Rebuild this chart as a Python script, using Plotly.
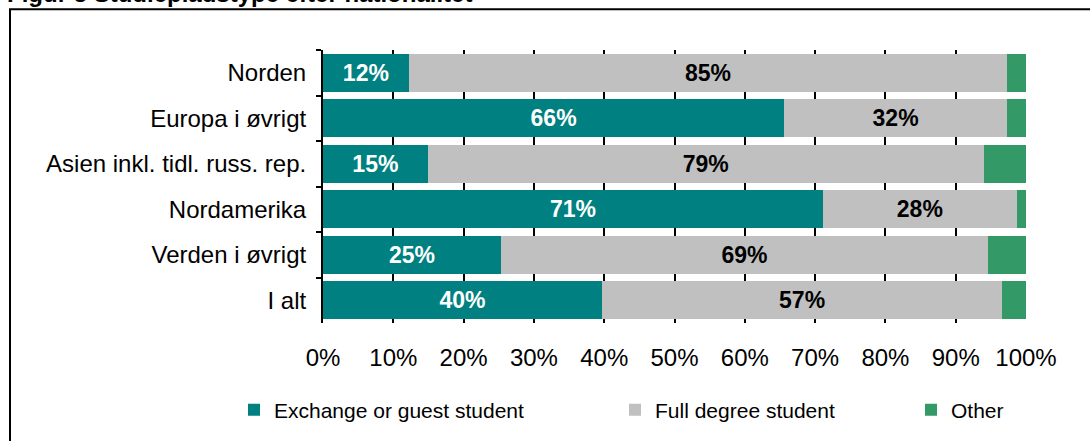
import plotly.graph_objects as go

categories = ["Norden", "Europa i øvrigt", "Asien inkl. tidl. russ. rep.",
              "Nordamerika", "Verden i øvrigt", "I alt"]
exchange = [12.2, 65.6, 14.9, 71.1, 25.3, 39.7]
full_degree = [85.1, 31.7, 79.1, 27.6, 69.3, 56.9]
other = [2.7, 2.7, 6.0, 1.3, 5.4, 3.4]
exchange_labels = ["12%", "66%", "15%", "71%", "25%", "40%"]
full_labels = ["85%", "32%", "79%", "28%", "69%", "57%"]
x_ticks = [0, 10, 20, 30, 40, 50, 60, 70, 80, 90, 100]
x_tick_labels = [f"{v}%" for v in x_ticks]
title_text = "Figur 5 Studiepladstype efter nationalitet"

FONT = "Liberation Sans, Arial, sans-serif"
TEAL = "#008080"
GREY = "#C0C0C0"
GREEN = "#339966"

fig = go.Figure()
fig.add_trace(go.Bar(
    y=categories, x=exchange, orientation="h", name="Exchange or guest student",
    marker=dict(color=TEAL, line=dict(width=0)),
    text=exchange_labels, textposition="inside", insidetextanchor="middle",
    textfont=dict(family=FONT, size=23, color="white", weight="bold"),
    legend="legend", hoverinfo="skip",
))
fig.add_trace(go.Bar(
    y=categories, x=full_degree, orientation="h", name="Full degree student",
    marker=dict(color=GREY, line=dict(width=0)),
    text=full_labels, textposition="inside", insidetextanchor="middle",
    textfont=dict(family=FONT, size=23, color="black", weight="bold"),
    legend="legend2", hoverinfo="skip",
))
fig.add_trace(go.Bar(
    y=categories, x=other, orientation="h", name="Other",
    marker=dict(color=GREEN, line=dict(width=0)),
    legend="legend3", hoverinfo="skip",
))

W, H = 1090, 441
L, R, T, B = 323, 64, 50, 117
pw, ph = W - L - R, H - T - B

def px_x(p):
    return (p - L) / pw

def px_y(p):
    return (H - B - p) / ph

legend_common = dict(orientation="h", yanchor="middle", xanchor="left",
                     font=dict(family=FONT, size=21, color="black"),
                     bgcolor="rgba(0,0,0,0)", borderwidth=0)

fig.update_layout(
    width=W, height=H,
    margin=dict(l=L, r=R, t=T, b=B, pad=0),
    paper_bgcolor="white", plot_bgcolor="white",
    barmode="stack", bargap=0.167,
    font=dict(family=FONT, size=24, color="black"),
    showlegend=True,
    legend=dict(x=px_x(234), y=px_y(410), **legend_common),
    legend2=dict(x=px_x(615), y=px_y(410), **legend_common),
    legend3=dict(x=px_x(911), y=px_y(410), **legend_common),
    xaxis=dict(range=[0, 100], tickvals=x_ticks, ticktext=x_tick_labels,
               showgrid=True, gridcolor="black", gridwidth=1.5,
               zeroline=False, showline=False, ticks="",
               ticklabelstandoff=18,
               tickfont=dict(family=FONT, size=24, color="black"),
               fixedrange=True),
    yaxis=dict(categoryorder="array", categoryarray=categories,
               autorange="reversed", showgrid=False, zeroline=False,
               showline=True, linecolor="black", linewidth=2,
               ticks="outside", tickson="boundaries", ticklen=5,
               tickwidth=2, tickcolor="black", ticklabelstandoff=10,
               tickfont=dict(family=FONT, size=24, color="black"),
               fixedrange=True),
    shapes=[dict(type="rect", xref="paper", yref="paper",
                 x0=px_x(10), x1=px_x(1200), y0=px_y(500), y1=px_y(9),
                 line=dict(color="black", width=2), fillcolor="rgba(0,0,0,0)",
                 layer="below")],
    annotations=[dict(text=title_text, xref="paper", yref="paper",
                      x=px_x(5), y=px_y(-7), xanchor="left", yanchor="middle",
                      showarrow=False,
                      font=dict(family=FONT, size=24, color="black", weight="bold"))],
)

fig.write_html("out.html", config={"displayModeBar": False},
               post_script="document.body.style.margin='0';document.body.style.overflow='hidden';")
